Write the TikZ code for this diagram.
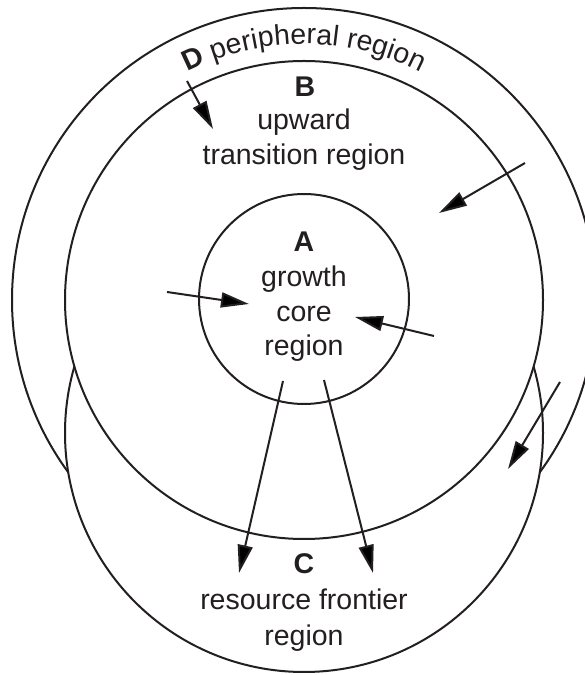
\documentclass[tikz,border=0pt]{standalone}
\usepackage{fontspec}
\setmainfont{Liberation Sans}
\usetikzlibrary{arrows.meta,decorations.text}
\definecolor{ink}{RGB}{35,31,32}
\begin{document}
\begin{tikzpicture}[x=1pt,y=1pt,
  region/.style={draw=ink, line width=2pt, fill=white},
  flow/.style={draw=ink, line width=2pt, -{Triangle[length=28pt,width=15pt]}},
  lbl/.style={anchor=base, inner sep=0pt, font=\fontsize{28.5}{34}\selectfont, text=ink},
  hd/.style={lbl, font=\fontsize{28.5}{34}\selectfont\bfseries}]
\useasboundingbox (0,0) rectangle (585,675);
\clip (0,0) rectangle (585,675);
% regions
\path[region] (304,375) circle[radius=292];
\path[region] (304,242) circle[radius=239];
\path[region] (304,375) circle[radius=239];
\path[region] (304,376) circle[radius=105];
% curved label of D
\path[decorate, decoration={text along path, text align=center, text color=ink,
  text={|\fontsize{28.5}{34}\selectfont\bfseries|D |\fontsize{28.5}{34}\selectfont\mdseries|peripheral region}}]
  (304,375) ++(150:256) arc[start angle=150, end angle=30, radius=256];
% labels
\node[hd]  (Bh) at (305,578) {B};
\node[lbl] (B1) at (304,545) {upward};
\node[lbl] (B2) at (304,510) {transition region};
\node[hd]  (Ah) at (304,423) {A};
\node[lbl] (A1) at (304,388) {growth};
\node[lbl] (A2) at (304,353) {core};
\node[lbl] (A3) at (304,319) {region};
\node[hd]  (Ch) at (304,101) {C};
\node[lbl] (C1) at (304,65) {resource frontier};
\node[lbl] (C2) at (304,30) {region};
% arrow end points
\coordinate (s1) at (187,594); \coordinate (e1) at (213,546);
\coordinate (s2) at (525,512); \coordinate (e2) at (439,462);
\coordinate (s3) at (167,383); \coordinate (e3) at (249,371);
\coordinate (s4) at (434,339); \coordinate (e4) at (355,358);
\coordinate (s5) at (283,294); \coordinate (e5) at (239,102);
\coordinate (s6) at (324,295); \coordinate (e6) at (373,102);
\coordinate (s7) at (560,293); \coordinate (e7) at (508,206);
\foreach \i in {1,...,7} {\draw[flow] (s\i) -- (e\i);}
\end{tikzpicture}
\end{document}
